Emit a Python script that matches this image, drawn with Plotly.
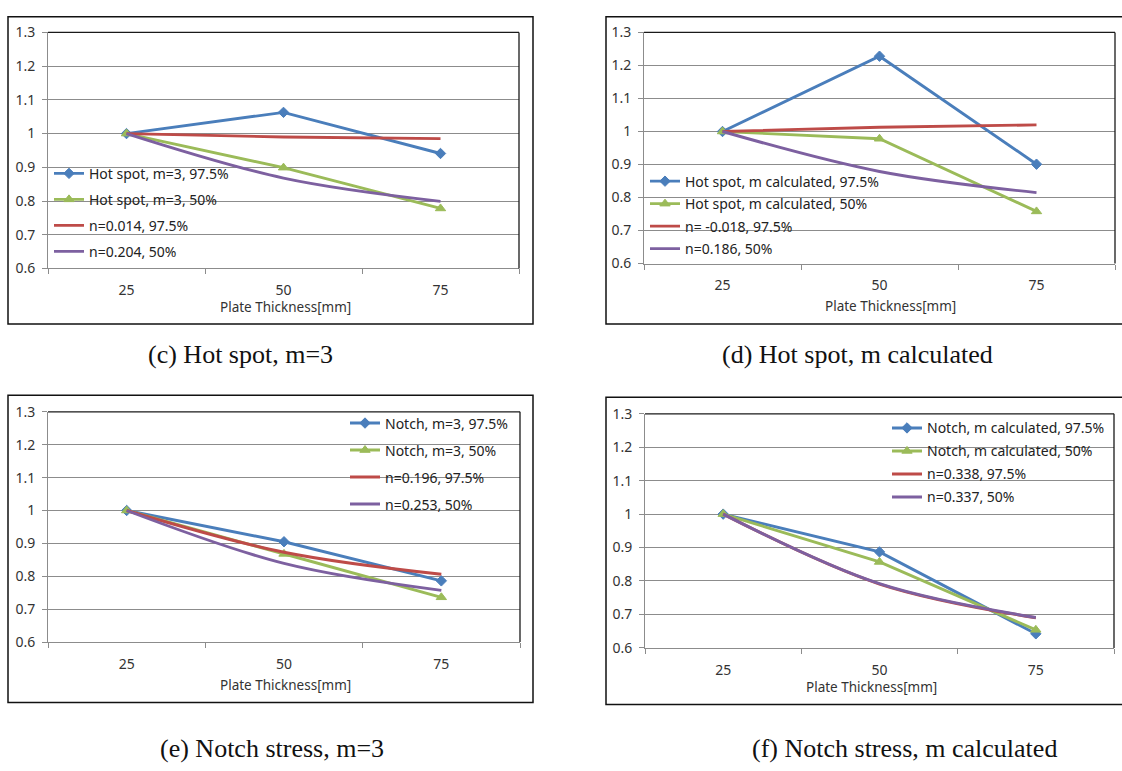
import plotly.graph_objects as go

# ---- data -------------------------------------------------------------
thickness = ["25", "50", "75"]
y_ticks = [0.6, 0.7, 0.8, 0.9, 1.0, 1.1, 1.2, 1.3]
y_tick_text = ["0.6", "0.7", "0.8", "0.9", "1", "1.1", "1.2", "1.3"]

# (c) Hot spot, m=3
c_names = ["Hot spot, m=3, 97.5%", "Hot spot, m=3, 50%", "n=0.014, 97.5%", "n=0.204, 50%"]
c_hot_975 = [1.0, 1.063, 0.941]
c_hot_50 = [1.0, 0.899, 0.778]
c_n_975 = [1.0, 0.990, 0.985]
c_n_50 = [1.0, 0.868, 0.799]

# (d) Hot spot, m calculated
d_names = ["Hot spot, m calculated, 97.5%", "Hot spot, m calculated, 50%",
           "n= -0.018, 97.5%", "n=0.186, 50%"]
d_hot_975 = [1.0, 1.228, 0.901]
d_hot_50 = [1.0, 0.978, 0.758]
d_n_975 = [1.0, 1.013, 1.020]
d_n_50 = [1.0, 0.879, 0.815]

# (e) Notch stress, m=3
e_names = ["Notch, m=3, 97.5%", "Notch, m=3, 50%", "n=0.196, 97.5%", "n=0.253, 50%"]
e_notch_975 = [1.0, 0.905, 0.786]
e_notch_50 = [1.0, 0.868, 0.736]
e_n_975 = [1.0, 0.873, 0.806]
e_n_50 = [1.0, 0.839, 0.757]

# (f) Notch stress, m calculated
f_names = ["Notch, m calculated, 97.5%", "Notch, m calculated, 50%",
           "n=0.338, 97.5%", "n=0.337, 50%"]
f_notch_975 = [1.0, 0.887, 0.642]
f_notch_50 = [1.0, 0.857, 0.654]
f_n_975 = [1.0, 0.791, 0.690]
f_n_50 = [1.0, 0.792, 0.691]

captions = ["(c) Hot spot, m=3", "(d) Hot spot, m calculated",
            "(e) Notch stress, m=3", "(f) Notch stress, m calculated"]
x_title = "Plate Thickness[mm]"

# ---- page geometry (pixels) --------------------------------------------
W, H = 1122, 771


def px(x):
    return x / W


def py(y):
    return 1 - y / H


BLUE = "#4A7EBB"
GREEN = "#9BBB59"
RED = "#BE4B48"
PURPLE = "#7D60A0"
GRID = "#8C8C8C"
FONT = "Noto Sans"

panels = [
    dict(series=[c_hot_975, c_hot_50, c_n_975, c_n_50], names=c_names,
         plot=(48, 519, 23, 265), frame=(8, 533, 7, 322),
         xtitle=(285, 304), caption=(240, 353),
         legend=(49, 151.5, 4.8)),
    dict(series=[d_hot_975, d_hot_50, d_n_975, d_n_50], names=d_names,
         plot=(644, 1115, 23, 260), frame=(606, 1130, 7, 322),
         xtitle=(890, 303), caption=(858, 353),
         legend=(645, 159.5, 1.3)),
    dict(series=[e_notch_975, e_notch_50, e_n_975, e_n_50], names=e_names,
         plot=(48, 520, 412, 648), frame=(8, 533, 395, 710),
         xtitle=(285, 692), caption=(272, 757),
         legend=(345, 407.5, 5.8)),
    dict(series=[f_notch_975, f_notch_50, f_n_975, f_n_50], names=f_names,
         plot=(645, 1114, 414, 654), frame=(606, 1130, 397, 712),
         xtitle=(871, 694), caption=(904, 757),
         legend=(887, 412.5, 1.8)),
]

styles = [
    dict(color=BLUE, marker="diamond", msize=8, shape="linear"),
    dict(color=GREEN, marker="triangle-up", msize=9, shape="linear"),
    dict(color=RED, marker=None, msize=0, shape="spline"),
    dict(color=PURPLE, marker=None, msize=0, shape="spline"),
]

fig = go.Figure()
shapes = []
annotations = []
layout = {}

for i, p in enumerate(panels):
    n = i + 1
    xa = "x" if n == 1 else f"x{n}"
    ya = "y" if n == 1 else f"y{n}"
    lg = "legend" if n == 1 else f"legend{n}"
    x0, x1, y0, y1 = p["plot"]

    for j, (vals, name) in enumerate(zip(p["series"], p["names"])):
        st = styles[j]
        mode = "lines+markers" if st["marker"] else "lines"
        tr = dict(
            x=thickness, y=vals, name=name, mode=mode,
            xaxis=xa, yaxis=ya, legend=lg, legendgroup=f"{n}-{j}",
            line=dict(color=st["color"], width=2.9, shape=st["shape"], smoothing=1.0),
        )
        if st["marker"]:
            tr["marker"] = dict(symbol=st["marker"], size=st["msize"], color=st["color"],
                                line=dict(color=st["color"], width=1))
        fig.add_trace(go.Scatter(**tr))

    layout[xa.replace("x", "xaxis")] = dict(
        domain=[px(x0), px(x1)], anchor=ya, type="category",
        range=[-0.5, 2.5], tickson="boundaries", ticks="outside", ticklen=5,
        tickcolor=GRID, showgrid=False, showline=True, linecolor=GRID, linewidth=1,
        ticklabelstandoff=9, tickfont=dict(family=FONT, size=14, color="#333"),
        zeroline=False, fixedrange=True,
    )
    layout[ya.replace("y", "yaxis")] = dict(
        domain=[py(y1), py(y0)], anchor=xa, range=[0.6, 1.3],
        tickvals=y_ticks, ticktext=y_tick_text, ticks="outside", ticklen=5,
        tickcolor=GRID, showgrid=True, gridcolor=GRID, gridwidth=1,
        showline=True, linecolor=GRID, linewidth=1, ticklabelstandoff=4,
        tickfont=dict(family=FONT, size=14, color="#333"),
        zeroline=False, fixedrange=True,
    )

    lx, ly, gap = p["legend"]
    layout[lg] = dict(
        x=px(lx), y=py(ly), xanchor="left", yanchor="top",
        bgcolor="rgba(0,0,0,0)", borderwidth=0, traceorder="grouped",
        tracegroupgap=gap, font=dict(family=FONT, size=14, color="#222"),
        itemwidth=30,
    )

    # plot-area border on top and right
    shapes.append(dict(type="line", xref="paper", yref="paper",
                       x0=px(x0), x1=px(x1), y0=py(y0), y1=py(y0),
                       line=dict(color="#1a1a1a", width=1.3)))
    shapes.append(dict(type="line", xref="paper", yref="paper",
                       x0=px(x1), x1=px(x1), y0=py(y0), y1=py(y1),
                       line=dict(color="#1a1a1a", width=1.3)))
    # chart frame
    fx0, fx1, fy0, fy1 = p["frame"]
    shapes.append(dict(type="rect", xref="paper", yref="paper",
                       x0=px(fx0), x1=px(fx1), y0=py(fy1), y1=py(fy0),
                       line=dict(color="#111", width=1.5), layer="below"))

    tx, ty = p["xtitle"]
    annotations.append(dict(text=x_title, x=px(tx), y=py(ty), xref="paper", yref="paper",
                            showarrow=False, xanchor="center", yanchor="middle",
                            font=dict(family=FONT, size=13.5, color="#333")))
    cx, cy = p["caption"]
    annotations.append(dict(text=captions[i], x=px(cx), y=py(cy), xref="paper", yref="paper",
                            showarrow=False, xanchor="center", yanchor="middle",
                            font=dict(family="Liberation Serif", size=26, color="#111")))

fig.update_layout(
    width=W, height=H, margin=dict(l=0, r=0, t=0, b=0),
    paper_bgcolor="white", plot_bgcolor="white",
    showlegend=True, shapes=shapes, annotations=annotations, **layout,
)

fig.write_html("out.html", config={"displayModeBar": False})
